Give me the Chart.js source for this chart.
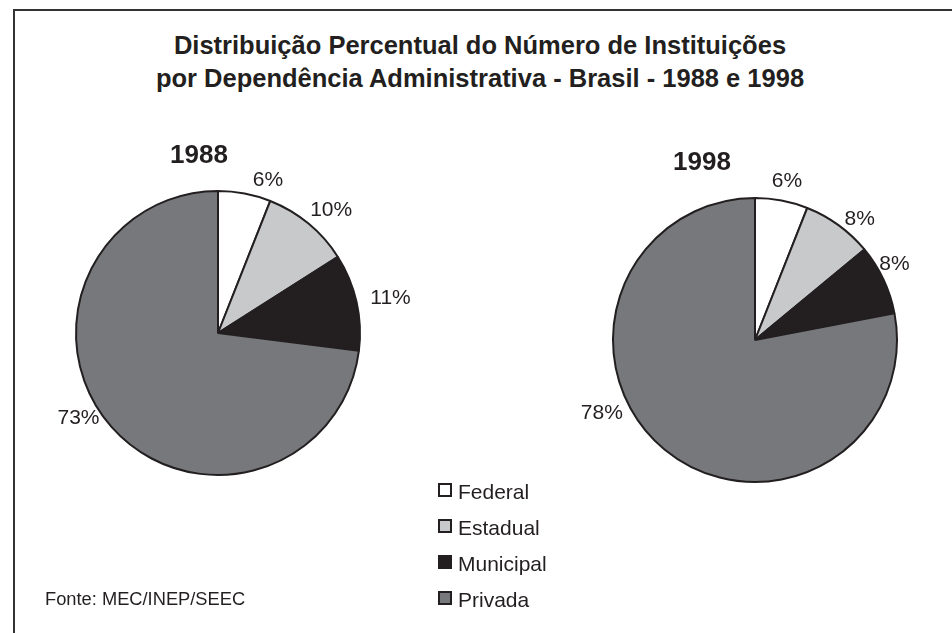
<!DOCTYPE html>
<html>
<head>
<meta charset="utf-8">
<script src="https://cdn.jsdelivr.net/npm/chart.js"></script>
<style>
  body { margin: 0; background: #fff; font-family: "Liberation Sans", Arial, sans-serif; color: #231f20; }
  #page { position: relative; width: 952px; height: 633px; overflow: hidden; }
  #frame { position: absolute; left: 13px; top: 9px; width: 960px; height: 640px; border-left: 2px solid #333; border-top: 2px solid #333; }
  canvas { position: absolute; left: 0; top: 0; pointer-events: none; }
  .title { position: absolute; left: 80px; width: 800px; text-align: center; font-weight: bold; font-size: 25.5px; }
  .legend { position: absolute; left: 438px; font-size: 21px; }
  .legend span.box { position: absolute; left: 0; top: -7px; width: 10px; height: 10px; border: 2px solid #231f20; }
  .legend span.txt { position: absolute; left: 20px; top: -10px; white-space: nowrap; }
  #fonte { position: absolute; left: 45px; top: 588px; font-size: 18.3px; white-space: nowrap; }
</style>
</head>
<body>
<div id="page">
  <div id="frame"></div>
  <div class="title" style="top:31px">Distribuição Percentual do Número de Instituições</div>
  <div class="title" style="top:64px">por Dependência Administrativa - Brasil - 1988 e 1998</div>
  <canvas id="pie1988" width="952" height="633"></canvas>
  <canvas id="pie1998" width="952" height="633"></canvas>
  <div id="legend"></div>
  <div id="fonte">Fonte: MEC/INEP/SEEC</div>
</div>
<script>
const categories = ['Federal', 'Estadual', 'Municipal', 'Privada'];
const values1988 = [6, 10, 11, 73];
const values1998 = [6, 8, 8, 78];
const years = ['1988', '1998'];
const colors = ['#ffffff', '#c8c9cb', '#231f20', '#77787b'];

// legend
const legendEl = document.getElementById('legend');
categories.forEach((c, i) => {
  const d = document.createElement('div');
  d.className = 'legend';
  d.style.top = (490 + i * 36) + 'px';
  d.innerHTML = '<span class="box" style="background:' + colors[i] + '"></span><span class="txt">' + c + '</span>';
  legendEl.appendChild(d);
});

// percent labels outside the slices + year heading
const pieLabels = {
  id: 'pieLabels',
  afterDatasetsDraw(chart, args, opts) {
    const ctx = chart.ctx;
    const meta = chart.getDatasetMeta(0);
    const data = chart.data.datasets[0].data;
    ctx.save();
    ctx.fillStyle = '#231f20';
    ctx.font = '21px "Liberation Sans", Arial, sans-serif';
    ctx.textBaseline = 'middle';
    meta.data.forEach((arc, i) => {
      const p = arc.getProps(['x', 'y', 'startAngle', 'endAngle', 'outerRadius'], true);
      const mid = (p.startAngle + p.endAngle) / 2;
      const r = p.outerRadius + 12;
      const cx = Math.cos(mid), sy = Math.sin(mid);
      let x = p.x + cx * r, y = p.y + sy * r;
      ctx.textAlign = cx > 0.15 ? 'left' : (cx < -0.15 ? 'right' : 'center');
      const n = opts.nudge[i] || [0, 0];
      ctx.fillText(data[i] + '%', x + n[0], y + n[1]);
    });
    // year heading
    const p0 = meta.data[0].getProps(['x', 'y', 'outerRadius'], true);
    ctx.font = 'bold 26px "Liberation Sans", Arial, sans-serif';
    ctx.textAlign = 'center';
    ctx.fillText(opts.year, p0.x + opts.yearDx, p0.y - p0.outerRadius - 35);
    ctx.restore();
  }
};

function makePie(id, values, year, padding, nudge, yearDx) {
  return new Chart(document.getElementById(id), {
    type: 'pie',
    data: {
      labels: categories,
      datasets: [{
        data: values,
        backgroundColor: colors,
        borderColor: '#231f20',
        borderWidth: 2
      }]
    },
    options: {
      responsive: false,
      animation: false,
      layout: { padding: padding },
      plugins: {
        legend: { display: false },
        tooltip: { enabled: false },
        pieLabels: { nudge: nudge, year: year, yearDx: yearDx }
      }
    },
    plugins: [pieLabels]
  });
}

makePie('pie1988', values1988, years[0],
  { left: 75, right: 591, top: 190, bottom: 157 },
  [[6, -2], [-6, -4], [2, -1], [-3, -17]], -19);
makePie('pie1998', values1998, years[1],
  { left: 612, right: 54, top: 197, bottom: 150 },
  [[-12, -8], [-1, 4], [-15, -10], [-34, -45]], -53);
</script>
</body>
</html>
